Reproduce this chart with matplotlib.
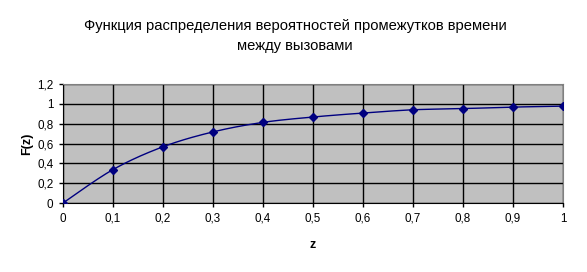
import numpy as np
import matplotlib.pyplot as plt
from matplotlib.ticker import FuncFormatter

# Values
z = [0.0, 0.1, 0.2, 0.3, 0.4, 0.5, 0.6, 0.7, 0.8, 0.9, 1.0]
fz = [0.0, 0.337, 0.567, 0.717, 0.813, 0.867, 0.907, 0.94, 0.952, 0.967, 0.977]

title = "Функция распределения вероятностей промежутков времени\nмежду вызовами"
x_ticks = [0, 0.1, 0.2, 0.3, 0.4, 0.5, 0.6, 0.7, 0.8, 0.9, 1.0]
y_ticks = [0, 0.2, 0.4, 0.6, 0.8, 1.0, 1.2]


def smooth(xs, ys, n=30):
    # Excel-like smoothed line: cubic Bezier segments, Catmull-Rom control points
    xs = np.asarray(xs, float)
    ys = np.asarray(ys, float)
    px, py = [], []
    for i in range(len(xs) - 1):
        x0, y0 = (xs[i - 1], ys[i - 1]) if i > 0 else (xs[i], ys[i])
        x3, y3 = (xs[i + 2], ys[i + 2]) if i + 2 < len(xs) else (xs[i + 1], ys[i + 1])
        x1, y1, x2, y2 = xs[i], ys[i], xs[i + 1], ys[i + 1]
        c1x, c1y = x1 + (x2 - x0) / 6, y1 + (y2 - y0) / 6
        c2x, c2y = x2 - (x3 - x1) / 6, y2 - (y3 - y1) / 6
        t = np.linspace(0, 1, n)
        a, b, c, d = (1 - t) ** 3, 3 * (1 - t) ** 2 * t, 3 * (1 - t) * t ** 2, t ** 3
        px.extend(a * x1 + b * c1x + c * c2x + d * x2)
        py.extend(a * y1 + b * c1y + c * c2y + d * y2)
    return px, py


plt.rcParams['font.family'] = ['Liberation Sans', 'DejaVu Sans']

fig = plt.figure(figsize=(5.87, 2.72), dpi=100)
ax = fig.add_axes([63 / 587, 1 - 203 / 272, 500 / 587, 119 / 272])
ax.set_facecolor('#c0c0c0')

sx, sy = smooth(z, fz)
ax.plot(sx, sy, color='#000080', lw=1, zorder=3)
ax.plot(z, fz, ls='none', marker='D', ms=4.5, color='#000080', zorder=4)

ax.set_xlim(0, 1)
ax.set_ylim(0, 1.2)
ax.set_xticks(x_ticks)
ax.set_yticks(y_ticks)
fmt = FuncFormatter(lambda v, p: ('%g' % round(v, 2)).replace('.', ','))
ax.xaxis.set_major_formatter(fmt)
ax.yaxis.set_major_formatter(fmt)
ax.tick_params(labelsize=8.4, length=3, width=1, color='black', pad=4)
ax.grid(True, color='black', lw=1)
ax.set_axisbelow(True)
for s in ['top', 'right']:
    ax.spines[s].set_color('#808080')
for s in ['left', 'bottom']:
    ax.spines[s].set_color('black')

ax.set_xlabel('z', fontsize=9, fontweight='bold', labelpad=10)
ax.set_ylabel('F(z)', fontsize=9, fontweight='bold', labelpad=3)

fig.text(0.503, 1 - 36 / 272, title, ha='center', va='center',
         fontsize=10.6, linespacing=1.5)

plt.savefig('out.png', dpi=100)
plt.close()
